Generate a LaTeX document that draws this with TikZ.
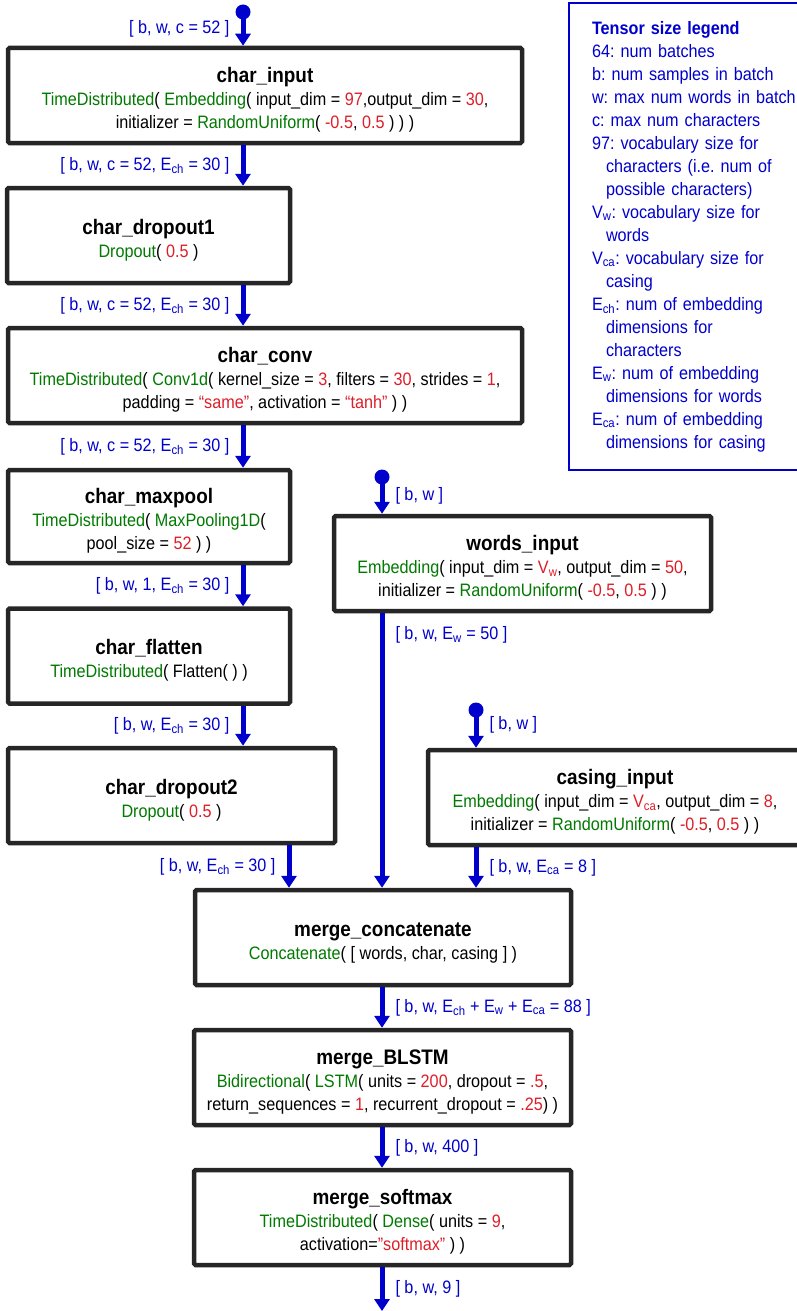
\documentclass[tikz,border=0pt]{standalone}
\usepackage{fontspec}
\setmainfont{Liberation Sans}[FakeStretch=0.9]
\usetikzlibrary{arrows.meta}
\definecolor{shapeblue}{RGB}{0, 0, 204}
\definecolor{kerasgreen}{RGB}{0, 122, 0}
\definecolor{paramred}{RGB}{222, 30, 40}
\newcommand\kfn[1]{\textcolor{kerasgreen}{#1}}
\newcommand\kval[1]{\textcolor{paramred}{#1}}
\newcommand\bodyfont{\fontsize{18}{23}\selectfont\frenchspacing}
\newcommand\ttl[1]{{\rule{0pt}{24pt}\bfseries\fontsize{21}{25}\selectfont #1}}

\begin{document}
\begin{tikzpicture}[x=1pt, y=-1pt,
    layer/.style={draw=black!85, line width=4.5pt, rounded corners=1.5pt, fill=white,
                  minimum height=95pt, inner sep=0pt, align=center, font=\bodyfont},
    flow/.style={draw=shapeblue, line width=5pt, -{Triangle[length=12pt, width=15pt]}},
    dot/.style={circle, fill=shapeblue, minimum size=15pt, inner sep=0pt},
    lbl/.style={font=\bodyfont, text=shapeblue, inner sep=1pt},
    legend/.style={draw=shapeblue, line width=2pt, font=\bodyfont, text=shapeblue, align=left,
                   text width=205pt, inner xsep=23pt, minimum height=467pt}]
    \useasboundingbox (0, 0) rectangle (797, 1311);
    % Character branch
    \node[dot] (char_in) at (243, 12) {};
    \node[layer, minimum width=514pt] (char_input)    at (265.0,   95.5) {\ttl{char\_input}\\
        \kfn{TimeDistributed}( \kfn{Embedding}( input\_dim = \kval{97},output\_dim = \kval{30},\\
        initializer = \kfn{RandomUniform}( \kval{-0.5}, \kval{0.5} ) ) )};
    \node[layer, minimum width=283pt] (char_dropout1) at (148.5,  235.5) {\ttl{char\_dropout1}\\
        \kfn{Dropout}( \kval{0.5} )};
    \node[layer, minimum width=514pt] (char_conv)     at (265.0,  375.5) {\ttl{char\_conv}\\
        \kfn{TimeDistributed}( \kfn{Conv1d}( kernel\_size = \kval{3}, filters = \kval{30}, strides = \kval{1},\\
        padding = \kval{“same”}, activation = \kval{“tanh”} ) )};
    \node[layer, minimum width=282pt, minimum height=93pt] (char_maxpool) at (149.0, 516.5) {\ttl{char\_maxpool}\\
        \kfn{TimeDistributed}( \kfn{MaxPooling1D}(\\
        pool\_size = \kval{52} ) )};
    \node[layer, minimum width=282pt] (char_flatten)  at (149.0,  656.0) {\ttl{char\_flatten}\\
        \kfn{TimeDistributed}( Flatten( ) )};
    \node[layer, minimum width=327pt] (char_dropout2) at (171.5,  795.5) {\ttl{char\_dropout2}\\
        \kfn{Dropout}( \kval{0.5} )};
    \coordinate (char_out) at (289, 866);
    % Word branch
    \node[dot] (words_in) at (382, 477) {};
    \node[layer, minimum width=377pt] (words_input)   at (522.5,  563.5) {\ttl{words\_input}\\
        \kfn{Embedding}( input\_dim = \kval{V\textsubscript{w}}, output\_dim = \kval{50},\\
        initializer = \kfn{RandomUniform}( \kval{-0.5}, \kval{0.5} ) )};
    % Casing branch
    \node[dot] (casing_in) at (476, 710) {};
    \node[layer, minimum width=374pt] (casing_input)  at (615.0,  797.5) {\ttl{casing\_input}\\
        \kfn{Embedding}( input\_dim = \kval{V\textsubscript{ca}}, output\_dim = \kval{8},\\
        initializer = \kfn{RandomUniform}( \kval{-0.5}, \kval{0.5} ) )};
    % Merged part
    \node[layer, minimum width=376pt] (merge_concatenate) at (383.0,  937.5) {\ttl{merge\_concatenate}\\
        \kfn{Concatenate}( [ words, char, casing ] )};
    \node[layer, minimum width=377pt] (merge_BLSTM)   at (382.5, 1077.5) {\ttl{merge\_BLSTM}\\
        \kfn{Bidirectional}( \kfn{LSTM}( units = \kval{200}, dropout = \kval{.5},\\
        return\_sequences = \kval{1}, recurrent\_dropout = \kval{.25}) )};
    \node[layer, minimum width=377pt] (merge_softmax) at (382.5, 1217.5) {\ttl{merge\_softmax}\\
        \kfn{TimeDistributed}( \kfn{Dense}( units = \kval{9},\\
        activation=\kval{”softmax”} ) )};
    \coordinate (merge_out) at (382, 1311);
    % Legend
    \node[legend, anchor=north west] (size_legend) at (568, 2) {{\bfseries Tensor size legend}\\
        64: num batches\\
        b: num samples in batch\\
        w: max num words in batch\\
        c: max num characters\\
        97: vocabulary size for\\
        \hspace*{14pt}characters (i.e. num of\\
        \hspace*{14pt}possible characters)\\
        V\textsubscript{w}: vocabulary size for\\
        \hspace*{14pt}words\\
        V\textsubscript{ca}: vocabulary size for\\
        \hspace*{14pt}casing\\
        E\textsubscript{ch}: num of embedding\\
        \hspace*{14pt}dimensions for\\
        \hspace*{14pt}characters\\
        E\textsubscript{w}: num of embedding\\
        \hspace*{14pt}dimensions for words\\
        E\textsubscript{ca}: num of embedding\\
        \hspace*{14pt}dimensions for casing};
    % Tensor flow, character branch
    \draw[flow] (char_in.center) -- node[lbl, left=10pt] (size_c0) {[ b, w, c = 52 ]} (char_input.north -| char_in);
    \draw[flow] (char_input.south -| char_in) -- node[lbl, left=10pt] (size_c1) {[ b, w, c = 52, E\textsubscript{ch} = 30 ]} (char_dropout1.north -| char_in);
    \draw[flow] (char_dropout1.south -| char_in) -- node[lbl, left=10pt] (size_c2) {[ b, w, c = 52, E\textsubscript{ch} = 30 ]} (char_conv.north -| char_in);
    \draw[flow] (char_conv.south -| char_in) -- node[lbl, left=10pt] (size_c3) {[ b, w, c = 52, E\textsubscript{ch} = 30 ]} (char_maxpool.north -| char_in);
    \draw[flow] (char_maxpool.south -| char_in) -- node[lbl, left=10pt] (size_c4) {[ b, w, 1, E\textsubscript{ch} = 30 ]} (char_flatten.north -| char_in);
    \draw[flow] (char_flatten.south -| char_in) -- node[lbl, left=10pt] (size_c5) {[ b, w, E\textsubscript{ch} = 30 ]} (char_dropout2.north -| char_in);
    \draw[flow] (char_dropout2.south -| char_out) -- node[lbl, left=10pt] (size_c6) {[ b, w, E\textsubscript{ch} = 30 ]} (merge_concatenate.north -| char_out);
    % Tensor flow, word and casing branches
    \draw[flow] (words_in.center) -- node[lbl, right=10pt] (size_w0) {[ b, w ]} (words_input.north -| words_in);
    \draw[flow] (words_input.south -| words_in) -- node[lbl, right=10pt, pos=0.08] (size_w1) {[ b, w, E\textsubscript{w} = 50 ]} (merge_concatenate.north -| words_in);
    \draw[flow] (casing_in.center) -- node[lbl, right=10pt, pos=0.4] (size_k0) {[ b, w ]} (casing_input.north -| casing_in);
    \draw[flow] (casing_input.south -| casing_in) -- node[lbl, right=10pt] (size_k1) {[ b, w, E\textsubscript{ca} = 8 ]} (merge_concatenate.north -| casing_in);
    % Tensor flow, merged part
    \draw[flow] (merge_concatenate.south -| words_in) -- node[lbl, right=10pt] (size_m0) {[ b, w, E\textsubscript{ch} + E\textsubscript{w} + E\textsubscript{ca} = 88 ]} (merge_BLSTM.north -| words_in);
    \draw[flow] (merge_BLSTM.south -| words_in) -- node[lbl, right=10pt] (size_m1) {[ b, w, 400 ]} (merge_softmax.north -| words_in);
    \draw[flow] (merge_softmax.south -| words_in) -- node[lbl, right=10pt] (size_m2) {[ b, w, 9 ]} (merge_out);
\end{tikzpicture}
\end{document}
